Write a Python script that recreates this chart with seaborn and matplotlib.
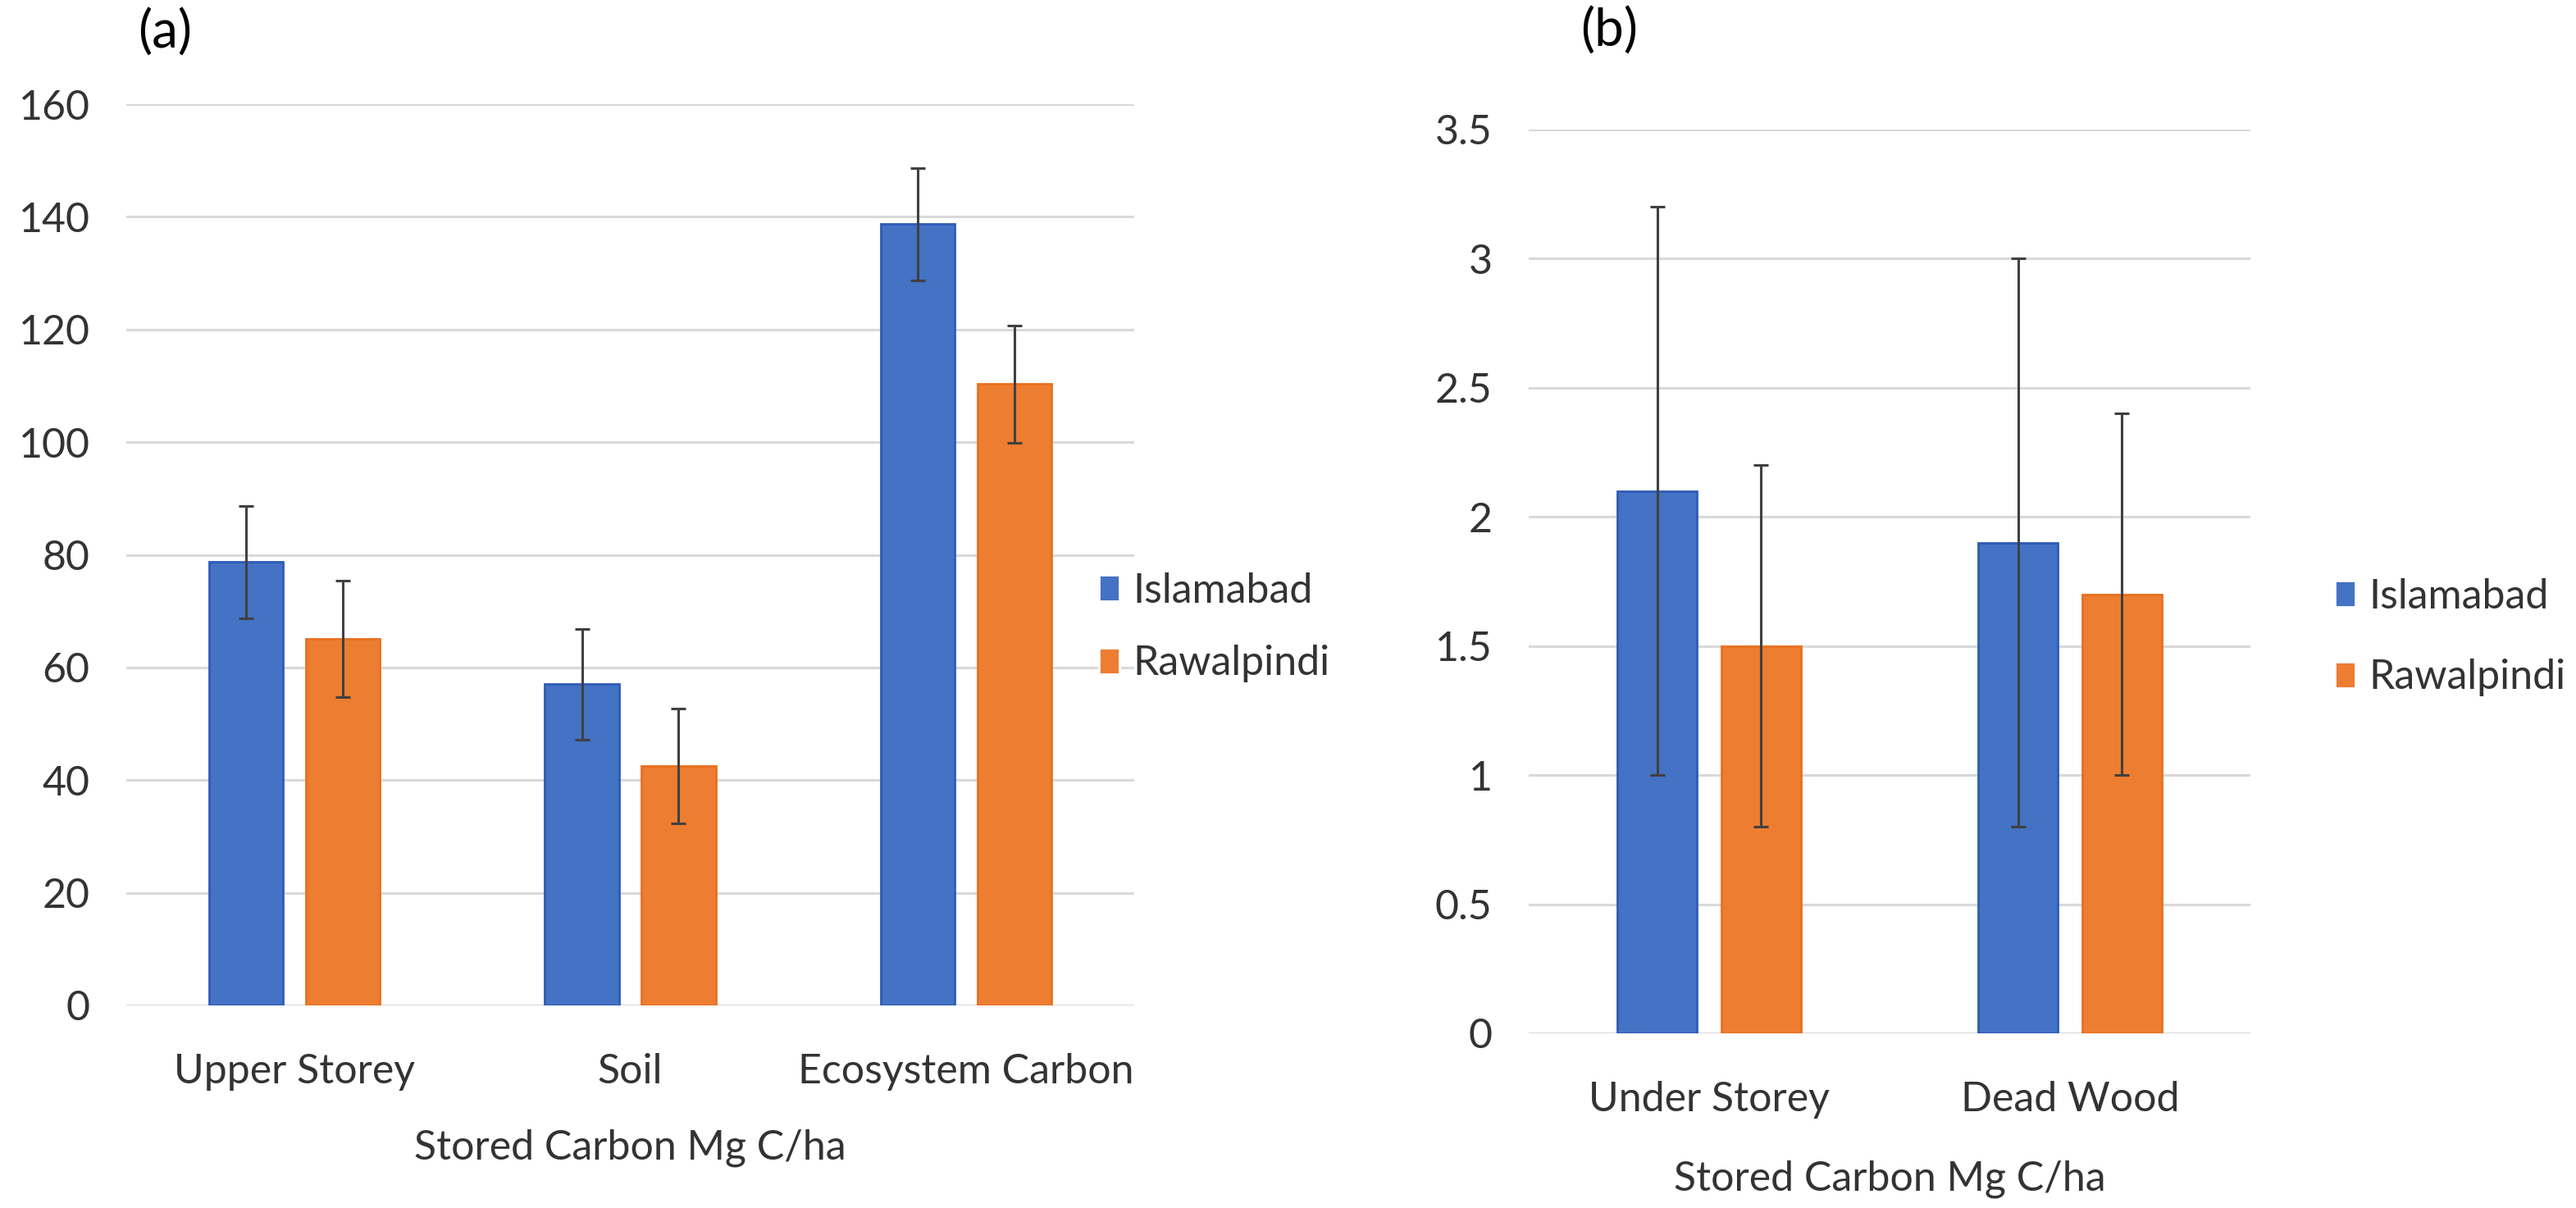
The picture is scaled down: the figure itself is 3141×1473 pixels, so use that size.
import matplotlib
matplotlib.use("Agg")
import matplotlib.pyplot as plt
import matplotlib.ticker as mticker
import seaborn as sns
import pandas as pd

# ---- data ----
cities = ["Islamabad", "Rawalpindi"]

cats_a = ["Upper Storey", "Soil", "Ecosystem Carbon"]
isl_a = [78.7, 57.0, 138.7]
raw_a = [65.1, 42.5, 110.3]
err_isl_a = [10.0, 9.8, 10.0]
err_raw_a = [10.3, 10.2, 10.4]

cats_b = ["Under Storey", "Dead Wood"]
isl_b = [2.1, 1.9]
raw_b = [1.5, 1.7]
err_isl_b = [1.1, 1.1]
err_raw_b = [0.7, 0.7]

yticks_a = [0, 20, 40, 60, 80, 100, 120, 140, 160]
yticks_b = [0, 0.5, 1.0, 1.5, 2.0, 2.5, 3.0, 3.5]

xlabel = "Stored Carbon Mg C/ha"

# ---- style ----
sns.set_theme(style="white")
FONT = ["Lato", "DejaVu Sans"]
plt.rcParams["font.family"] = FONT
FS = 18.0
TXT = "#333333"
palette = {"Islamabad": "#4472C4", "Rawalpindi": "#ED7D31"}
edges = {"Islamabad": "#2F5BB7", "Rawalpindi": "#E8701E"}

W, H = 3141, 1473
DPI = 200
fig = plt.figure(figsize=(W / DPI, H / DPI), dpi=DPI)


def px_axes(left, top, right, bottom):
    return fig.add_axes([left / W, 1 - bottom / H, (right - left) / W, (bottom - top) / H])


ax_a = px_axes(154, 127, 1383, 1226)
ax_b = px_axes(1864, 158, 2744, 1260)


def panel(ax, cats, isl, raw, eisl, eraw, yticks, labelpad):
    df = pd.DataFrame({
        "cat": cats + cats,
        "city": [cities[0]] * len(cats) + [cities[1]] * len(cats),
        "val": isl + raw,
    })
    errs = {cities[0]: eisl, cities[1]: eraw}
    sns.barplot(data=df, x="cat", y="val", hue="city", order=cats,
                hue_order=cities, palette=palette, width=0.576, gap=0.236,
                errorbar=None, ax=ax, zorder=2, saturation=1)
    for cont, city in zip(ax.containers, cities):
        for bar, e in zip(cont, errs[city]):
            bar.set_edgecolor(edges[city])
            bar.set_linewidth(1.0)
            cx = bar.get_x() + bar.get_width() / 2
            ax.errorbar(cx, bar.get_height(), yerr=e, fmt="none",
                        ecolor="#404040", elinewidth=1.1, capsize=3.2,
                        capthick=1.1, zorder=3)
    ax.set_xlim(-0.5, len(cats) - 0.5)
    ax.set_ylim(yticks[0], yticks[-1])
    ax.set_yticks(yticks)
    ax.yaxis.set_major_formatter(mticker.FuncFormatter(lambda v, p: f"{v:g}"))
    ax.grid(axis="y", color="#D9D9D9", linewidth=1.1, zorder=0)
    ax.set_axisbelow(True)
    for s in ax.spines.values():
        s.set_visible(False)
    ax.tick_params(axis="both", length=0, labelsize=FS, labelcolor=TXT)
    ax.tick_params(axis="y", pad=16)
    ax.tick_params(axis="x", pad=21)
    ax.set_xlabel(xlabel, fontsize=FS, color=TXT, labelpad=labelpad)
    ax.set_ylabel("")
    handles, labels = ax.get_legend_handles_labels()
    if ax.get_legend() is not None:
        ax.get_legend().remove()
    return handles, labels


h_a, l_a = panel(ax_a, cats_a, isl_a, raw_a, err_isl_a, err_raw_a, yticks_a, 16.5)
h_b, l_b = panel(ax_b, cats_b, isl_b, raw_b, err_isl_b, err_raw_b, yticks_b, 18)

for hs, ls, x, y, sp in [(h_a, l_a, 1340, 765, 0.85), (h_b, l_b, 2847, 777, 1.05)]:
    fig.legend(hs, ls, loc="center left", bbox_to_anchor=(x / W, 1 - y / H),
               frameon=False, fontsize=FS, labelcolor=TXT, handlelength=0.5,
               handleheight=0.6, handletextpad=0.33, labelspacing=sp,
               borderpad=0, borderaxespad=0)

fig.text(168 / W, 1 - 40 / H, "(a)", fontsize=23, color="black", va="center", ha="left")
fig.text(1927 / W, 1 - 38 / H, "(b)", fontsize=23, color="black", va="center", ha="left")

fig.savefig("out.png", dpi=DPI)
